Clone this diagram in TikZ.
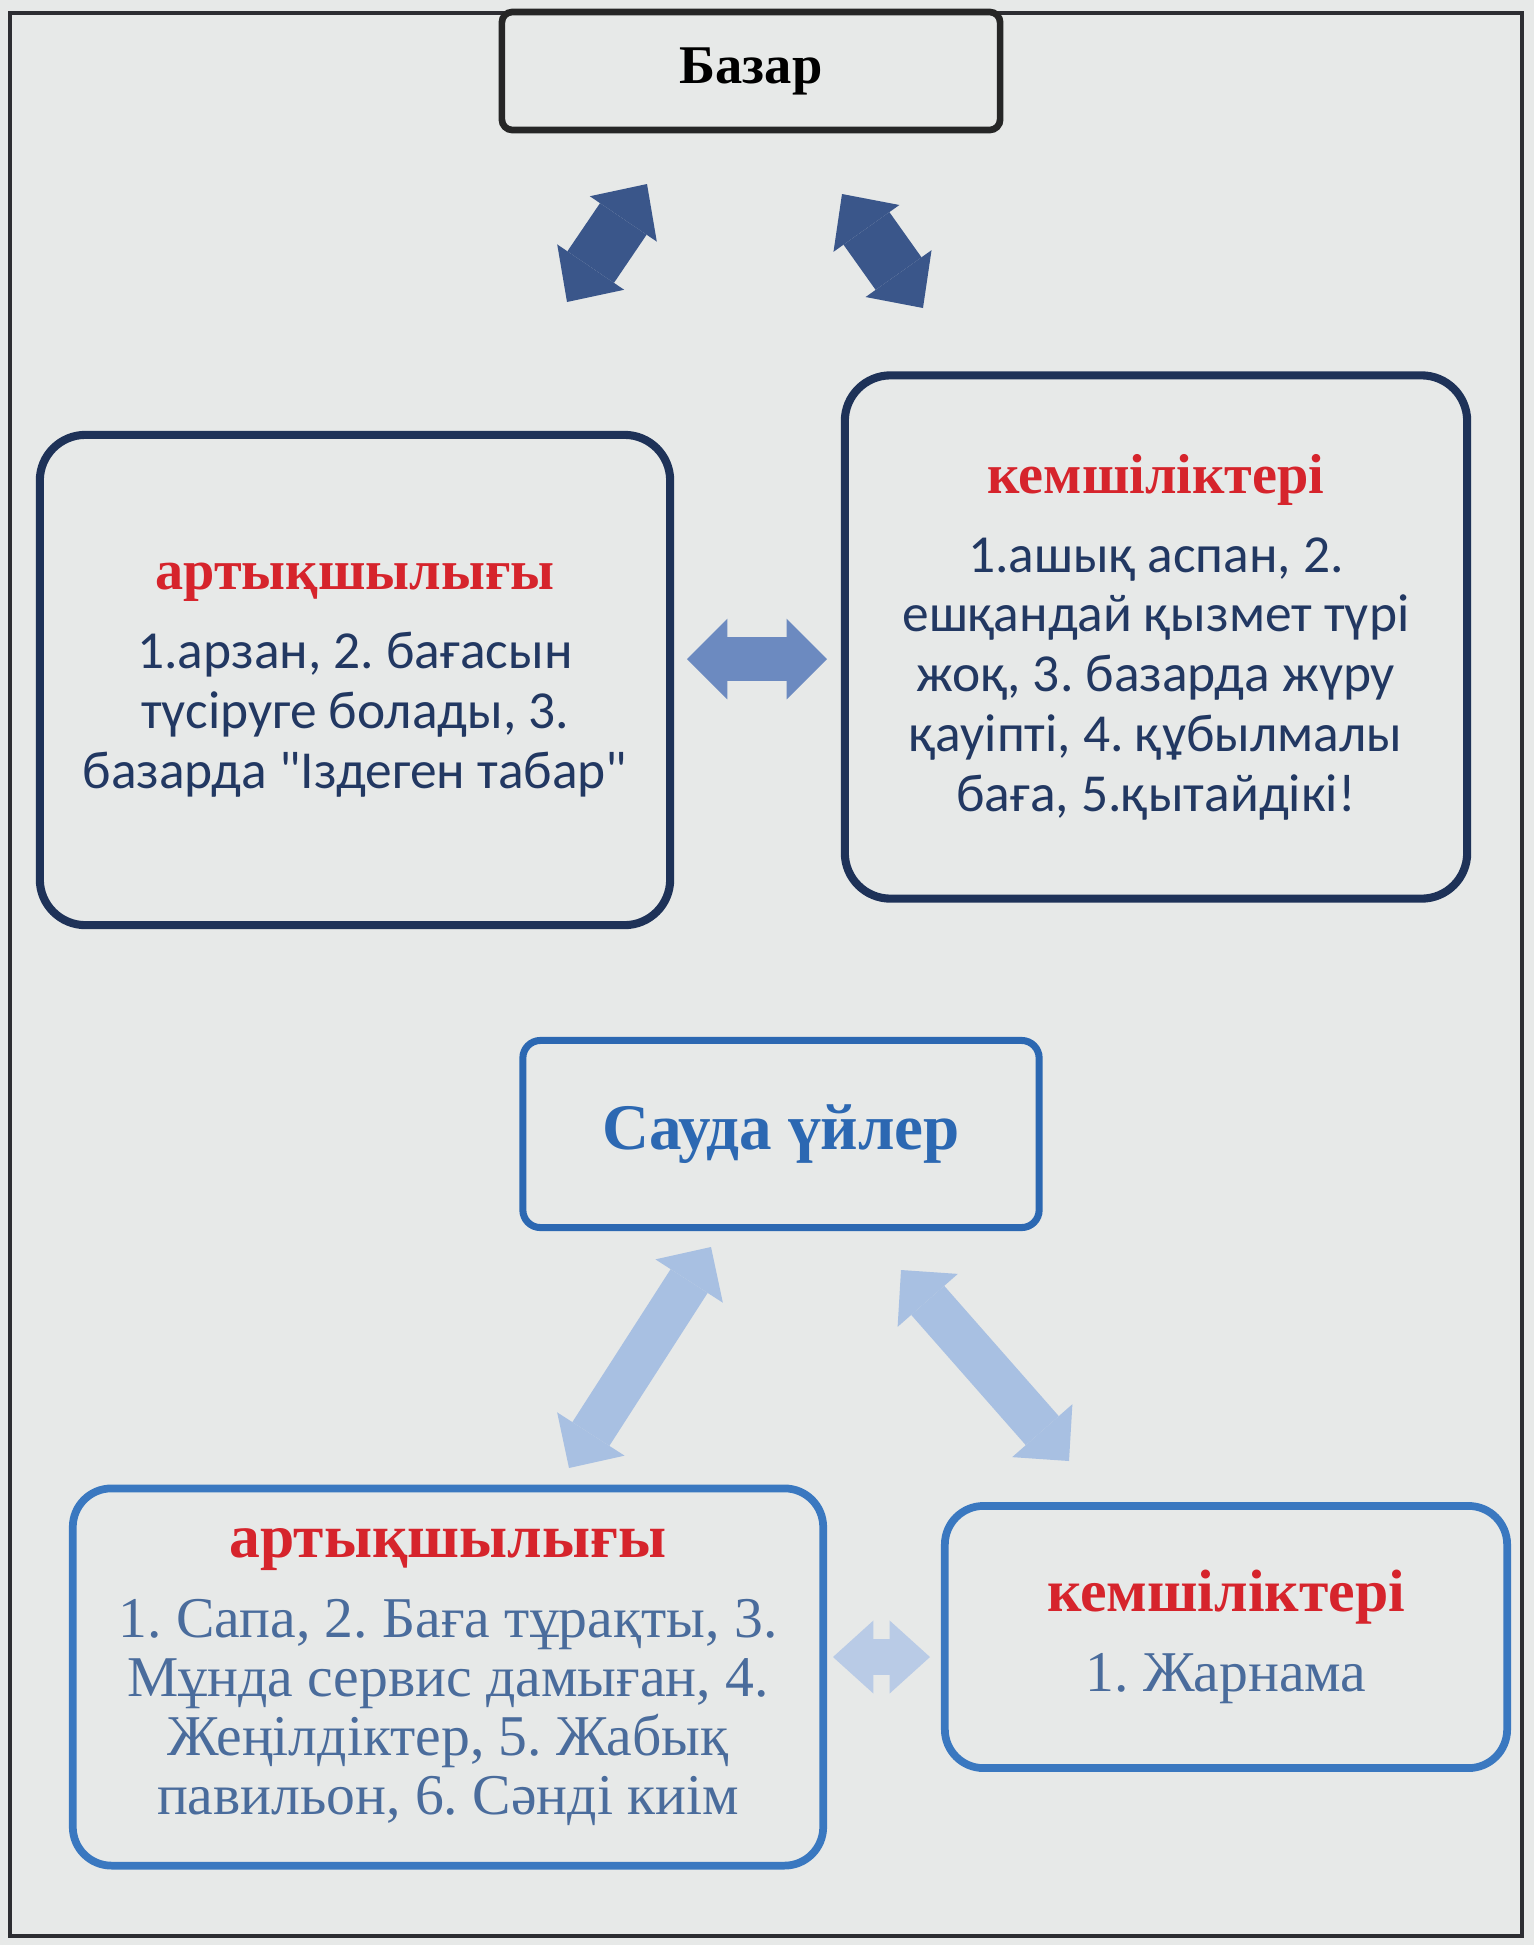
\documentclass[tikz,border=0pt]{standalone}
\usepackage{fontspec}
\setmainfont{Liberation Serif}
\newfontfamily\calibrifont{Carlito}
\usetikzlibrary{arrows.meta}
\frenchspacing
\definecolor{bgcol}{RGB}{231,233,232}
\definecolor{framecol}{RGB}{45,45,50}
\definecolor{navy}{RGB}{30,50,88}
\definecolor{navytext}{RGB}{34,56,98}
\definecolor{darkarrow}{RGB}{58,86,138}
\definecolor{midarrow}{RGB}{108,138,192}
\definecolor{lightarrow}{RGB}{168,192,226}
\definecolor{paleshape}{RGB}{185,203,230}
\definecolor{shopblue}{RGB}{44,104,178}
\definecolor{boxblue}{RGB}{58,120,192}
\definecolor{greyblue}{RGB}{74,108,156}
\definecolor{titlered}{RGB}{214,36,44}
\newcommand{\boxtitle}[2][16]{{\rmfamily\bfseries\fontsize{#1}{17}\selectfont\color{titlered}#2}}
\begin{document}
\begin{tikzpicture}[x=0.01cm,y=-0.01cm]
  \tikzstyle{every node}=[align=center,inner sep=0pt]
  \tikzstyle{topbox}=[draw=navy,line width=2.3pt,rounded corners=13pt,text=navytext,font=\calibrifont\fontsize{15.2}{17}\selectfont]
  \tikzstyle{lowbox}=[draw=boxblue,line width=2.2pt,rounded corners=11pt,text=greyblue,font=\fontsize{16.4}{16.8}\selectfont]
  \tikzstyle{fatarrow}=[line width=16pt,darkarrow,{Triangle[length=12pt,width=23pt,line width=0pt]}-{Triangle[length=12pt,width=23pt,line width=0pt]}]
  \tikzstyle{midfat}=[line width=12.5pt,midarrow,{Triangle[length=11.5pt,width=23pt,line width=0pt]}-{Triangle[length=11.5pt,width=23pt,line width=0pt]}]
  \tikzstyle{lightfat}=[line width=12.5pt,lightarrow,{Triangle[length=11.5pt,width=22.8pt,line width=0pt]}-{Triangle[length=11.5pt,width=22.8pt,line width=0pt]}]
  \tikzstyle{shortfat}=[line width=10pt,paleshape,{Triangle[length=11.5pt,width=20.8pt,line width=0pt]}-{Triangle[length=11.5pt,width=20.8pt,line width=0pt]}]

  \fill[bgcol] (0,0) rectangle (1534,1945);
  \useasboundingbox (0,0) rectangle (1534,1945);
  \draw[framecol,line width=1.2pt] (10,13) rectangle (1522,1936);

  % market
  \node (bazar) at (751,71) [draw=black!85,line width=1.9pt,rounded corners=3pt,fill=bgcol,
    minimum width=4.98cm,minimum height=1.18cm,font=\bfseries\fontsize{15.5}{17}\selectfont] {Базар};
  \node (advMarket) at (355,680) [topbox,minimum width=6.3cm,minimum height=4.9cm]
    {\boxtitle{артықшылығы}\\[5.5pt]
     1.арзан, 2. бағасын\\ түсіруге болады, 3.\\ базарда "Іздеген табар"};
  \node (disMarket) at (1156,637) [topbox,minimum width=6.22cm,minimum height=5.23cm]
    {\boxtitle{кемшіліктері}\\[5.5pt]
     1.ашық аспан, 2.\\ ешқандай қызмет түрі\\ жоқ, 3. базарда жүру\\ қауіпті, 4. құбылмалы\\ баға, 5.қытайдікі!};

  % shopping centres
  \node (shop) at (781,1134) [draw=shopblue,line width=2pt,rounded corners=5pt,text=shopblue,
    minimum width=5.16cm,minimum height=1.87cm,font=\bfseries\fontsize{18.5}{20}\selectfont] {Сауда үйлер};
  \node (advShop) at (448,1677) [lowbox,minimum width=7.5cm,minimum height=3.77cm]
    {\boxtitle[17.5]{артықшылығы}\\[6pt]
     1. Сапа, 2. Баға тұрақты, 3.\\ Мұнда сервис дамыған, 4.\\ Жеңілдіктер, 5. Жабық\\ павильон, 6. Сәнді киім};
  \node (disShop) at (1226,1637) [lowbox,minimum width=5.62cm,minimum height=2.62cm]
    {\boxtitle[17]{кемшіліктері}\\[6pt] 1. Жарнама};

  \coordinate (bzL1) at (567,302);  \coordinate (bzL2) at (647,184);
  \coordinate (bzR1) at (842,194);  \coordinate (bzR2) at (923,308);
  \coordinate (bzM1) at (687,659);  \coordinate (bzM2) at (827,659);
  \coordinate (shL1) at (569,1468); \coordinate (shL2) at (711,1247);
  \coordinate (shR1) at (901,1270); \coordinate (shR2) at (1069,1461);
  \coordinate (shM1) at (833,1657); \coordinate (shM2) at (930,1657);

  \draw [fatarrow] (bzL1) -- (bzL2);
  \draw [fatarrow] (bzR1) -- (bzR2);
  \draw [midfat] (bzM1) -- (bzM2);
  \draw [lightfat] (shL1) -- (shL2);
  \draw [lightfat] (shR1) -- (shR2);
  \draw [shortfat] (shM1) -- (shM2);
\end{tikzpicture}
\end{document}
